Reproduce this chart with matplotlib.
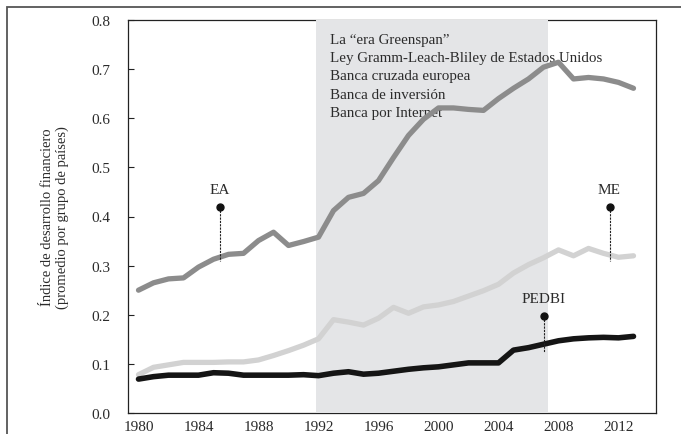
import numpy as np
import matplotlib.pyplot as plt
from matplotlib.patches import Rectangle

years = list(range(1980, 2014))

# índice de desarrollo financiero, promedio por grupo de países
ea = [0.250, 0.265, 0.273, 0.275, 0.297, 0.313, 0.323, 0.325, 0.351, 0.368,
      0.341, 0.349, 0.358, 0.412, 0.439, 0.447, 0.473, 0.520, 0.565, 0.598,
      0.621, 0.621, 0.618, 0.616, 0.640, 0.661, 0.680, 0.704, 0.714, 0.680,
      0.683, 0.680, 0.673, 0.661]
me = [0.078, 0.093, 0.098, 0.103, 0.103, 0.103, 0.104, 0.104, 0.108, 0.117,
      0.127, 0.138, 0.151, 0.190, 0.185, 0.179, 0.193, 0.215, 0.203, 0.216,
      0.220, 0.227, 0.238, 0.249, 0.262, 0.285, 0.302, 0.316, 0.332, 0.320,
      0.335, 0.325, 0.317, 0.320]
pedbi = [0.069, 0.074, 0.077, 0.077, 0.077, 0.082, 0.081, 0.077, 0.077, 0.077,
         0.077, 0.078, 0.076, 0.081, 0.084, 0.079, 0.081, 0.085, 0.089, 0.092,
         0.094, 0.098, 0.102, 0.102, 0.102, 0.128, 0.133, 0.140, 0.147, 0.151,
         0.153, 0.154, 0.153, 0.156]

era_span = (1991.8, 2007.3)
era_text = ["La \u201cera Greenspan\u201d",
            "Ley Gramm-Leach-Bliley de Estados Unidos",
            "Banca cruzada europea",
            "Banca de inversi\u00f3n",
            "Banca por Internet"]

# etiqueta, año del marcador, punto alto, punto bajo
markers = [("EA", 1985.4, 0.419, 0.31),
           ("ME", 2011.4, 0.419, 0.31),
           ("PEDBI", 2007.0, 0.198, 0.125)]

yticks = [0.0, 0.1, 0.2, 0.3, 0.4, 0.5, 0.6, 0.7, 0.8]
xticks = [1980, 1984, 1988, 1992, 1996, 2000, 2004, 2008, 2012]

plt.rcParams['font.family'] = ['Liberation Serif', 'DejaVu Serif']
txt = '#2b2b2b'

fig = plt.figure(figsize=(6.81, 4.35), dpi=100)
W, H = 681, 435
ax = fig.add_axes([128 / W, (H - 414) / H, (656 - 128) / W, (414 - 21) / H])

fig.patches.append(Rectangle((7 / W, -0.1), 1.2, 1.1 - 8 / H, transform=fig.transFigure,
                             fill=False, edgecolor='#555555', linewidth=1.3))

ax.axvspan(era_span[0], era_span[1], color='#e4e5e7', zorder=2.6, linewidth=0)

ax.text(1992.75, 0.774, "\n".join(era_text), ha='left', va='top', fontsize=10.8,
        color=txt, linespacing=1.53, zorder=2.8)

ax.plot(years, ea, color='#8c8c8c', linewidth=3.8, solid_capstyle='round', zorder=3)
ax.plot(years, me, color='#d2d2d2', linewidth=3.8, solid_capstyle='round', zorder=3)
ax.plot(years, pedbi, color='#151515', linewidth=4.0, solid_capstyle='round', zorder=3)

for name, yr, top, bottom in markers:
    ax.plot([yr, yr], [top, bottom], color='#222222', linewidth=0.8,
            linestyle=(0, (2, 1)), zorder=4)
    ax.plot([yr], [top], 'o', color='#111111', markersize=5, zorder=5)
    ax.text(yr, top + 0.022, name, ha='center', va='bottom', fontsize=11, color=txt, zorder=5)

ax.set_xlim(1979.3, 2014.5)
ax.set_ylim(0, 0.8)
ax.set_yticks(yticks)
ax.set_yticklabels(["%.1f" % v for v in yticks])
ax.set_xticks(xticks)
ax.tick_params(axis='y', direction='in', length=4, width=0.8, pad=13,
               labelsize=11, labelcolor=txt, color='#222222')
ax.tick_params(axis='x', length=0, pad=5, labelsize=11, labelcolor=txt)
for s in ax.spines.values():
    s.set_color('#222222')
    s.set_linewidth(0.9)

ax.set_ylabel("\u00cdndice de desarrollo financiero\n(promedio por grupo de pa\u00edses)",
              fontsize=10.5, color=txt, labelpad=16, linespacing=1.15)

fig.savefig('out.png', dpi=100)
